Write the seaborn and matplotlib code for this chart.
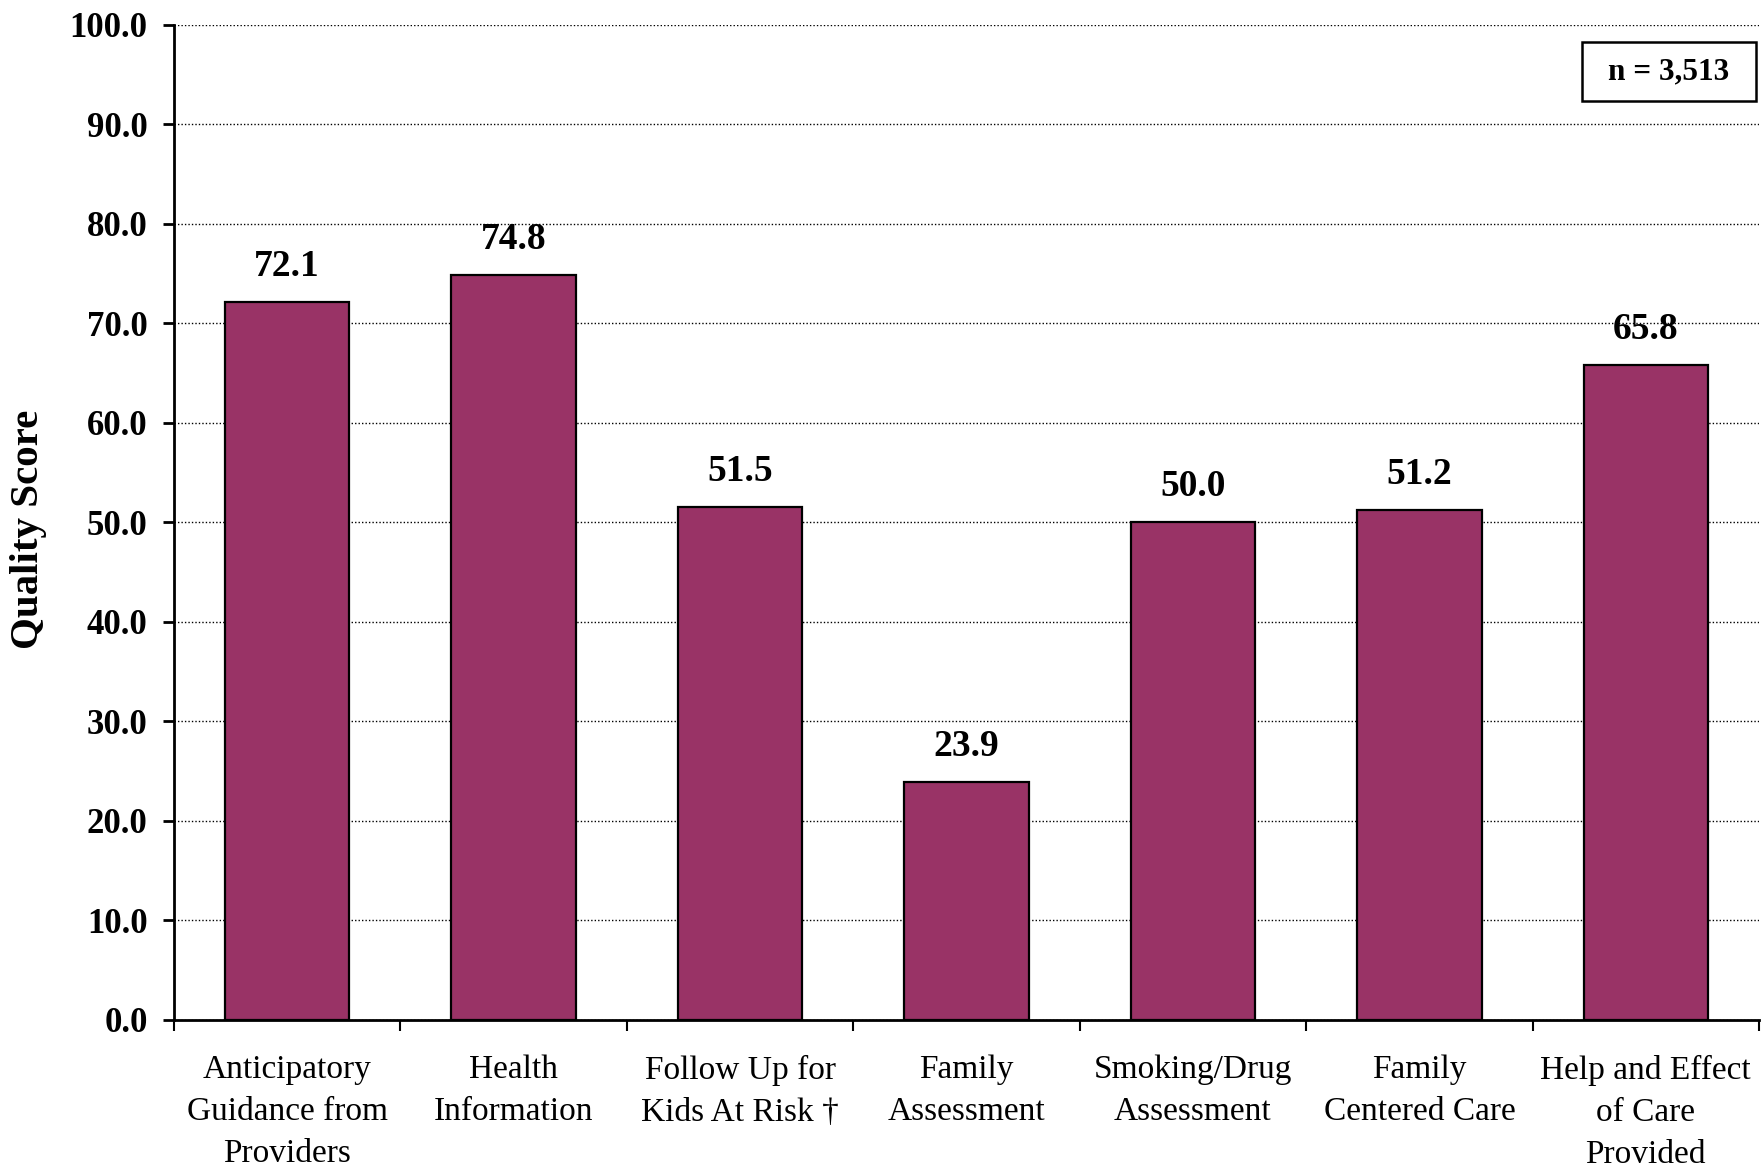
import matplotlib
matplotlib.use("Agg")
import matplotlib.pyplot as plt
from matplotlib.patches import Rectangle
import seaborn as sns
import pandas as pd
import numpy as np

categories = [
    "Anticipatory\nGuidance from\nProviders",
    "Health\nInformation",
    "Follow Up for\nKids At Risk \u2020",
    "Family\nAssessment",
    "Smoking/Drug\nAssessment",
    "Family\nCentered Care",
    "Help and Effect\nof Care\nProvided",
]
scores = [72.1, 74.8, 51.5, 23.9, 50.0, 51.2, 65.8]
y_ticks = [0, 10, 20, 30, 40, 50, 60, 70, 80, 90, 100]
sample_note = "n = 3,513"

sns.set_theme(style="white")
plt.rcParams["font.family"] = ["Liberation Serif", "DejaVu Serif"]
plt.rcParams["text.color"] = "black"
plt.rcParams["axes.labelcolor"] = "black"
plt.rcParams["xtick.color"] = "black"
plt.rcParams["ytick.color"] = "black"

df = pd.DataFrame({"measure": categories, "score": scores})

fig = plt.figure(figsize=(17.61, 11.67), dpi=100)
ax = fig.add_axes([0.0988, 0.1262, 0.9001, 0.8526])

sns.barplot(data=df, x="measure", y="score", color="#993366", saturation=1,
            edgecolor="black", linewidth=1.6, width=0.55, ax=ax, zorder=3)

ax.set_ylim(0, 100)
ax.set_xlim(-0.5, len(categories) - 0.5)

# y axis
ax.set_yticks(y_ticks)
ax.set_yticklabels([f"{v:.1f}" for v in y_ticks], fontsize=25, fontweight="bold")
ax.tick_params(axis="y", direction="out", length=8, width=2, pad=11, color="black", left=True)
ax.yaxis.grid(True, linestyle=(0, (1, 1.5)), color="black", linewidth=1.0)
ax.set_axisbelow(True)
ax.set_ylabel("Quality Score", fontsize=29.5, fontweight="bold")
ax.yaxis.set_label_coords(-0.080, 0.493)

# x axis: separators between categories, labels centred on bars
n = len(categories)
ax.set_xticks(np.arange(-0.5, n, 1.0))
ax.set_xticklabels([""] * (n + 1))
ax.tick_params(axis="x", which="major", direction="out", length=8, width=1.5, color="black", bottom=True)
ax.set_xticks(np.arange(n), minor=True)
ax.set_xticklabels(categories, minor=True, fontsize=24, linespacing=1.5)
ax.tick_params(axis="x", which="minor", length=0, pad=25)
ax.set_xlabel("")

for side in ["top", "right"]:
    ax.spines[side].set_visible(False)
for side in ["left", "bottom"]:
    ax.spines[side].set_visible(True)
    ax.spines[side].set_color("black")
    ax.spines[side].set_linewidth(2)

# value labels above bars
for i, v in enumerate(scores):
    ax.annotate(f"{v:.1f}", xy=(i, v), xytext=(0, 13), textcoords="offset points",
                ha="center", va="bottom", fontsize=27, fontweight="bold", zorder=5)

# sample size box
ax.add_patch(Rectangle((0.888, 0.9233), 0.1098, 0.0597, transform=ax.transAxes,
                       facecolor="white", edgecolor="black", linewidth=1.8, zorder=6))
ax.text(0.9429, 0.953, sample_note, transform=ax.transAxes, ha="center", va="center",
        fontsize=22.5, fontweight="bold", zorder=7)

fig.savefig("out.png", dpi=100)
